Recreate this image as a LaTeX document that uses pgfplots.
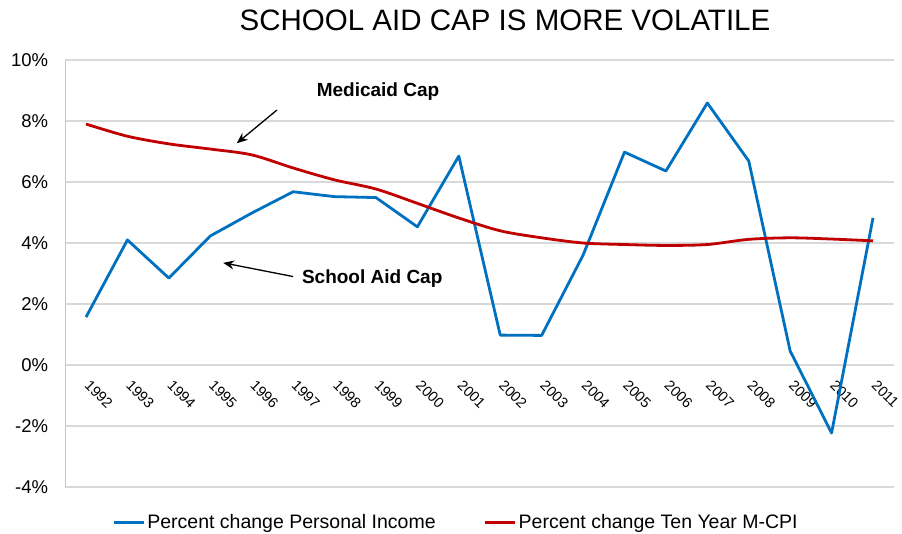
\documentclass[border=0pt]{standalone}
\usepackage{fontspec}
\setmainfont{Liberation Sans}
\usepackage{pgfplots}
\pgfplotsset{compat=1.18}
\usetikzlibrary{arrows.meta}
\definecolor{piblue}{RGB}{0,112,192}
\definecolor{cpired}{RGB}{192,0,0}
\begin{document}
\begin{tikzpicture}
\path[use as bounding box] (-65.3pt,-46pt) rectangle (836.7pt,487pt);
\begin{axis}[
  at={(0pt,0pt)}, anchor=south west,
  scale only axis, width=828.4pt, height=427pt,
  xmin=-0.5, xmax=19.5, ymin=-4, ymax=10,
  ytick={-4,-2,0,2,4,6,8,10},
  xtick={0,...,19},
  xticklabels={1992,1993,1994,1995,1996,1997,1998,1999,2000,2001,2002,2003,2004,2005,2006,2007,2008,2009,2010,2011},
  axis x line=middle, axis y line=left,
  axis line style={-},
  x axis line style={draw=none},
  y axis line style={draw=gray!45, line width=1.2pt},
  ymajorgrids, grid style={draw=gray!30, line width=1.2pt},
  major tick length=0pt,
  /pgf/number format/assume math mode=true,
  yticklabel={\pgfmathprintnumber{\tick}\%},
  yticklabel style={font=\fontsize{18.5}{20}\selectfont, inner sep=0pt, xshift=-17pt},
  xticklabel style={font=\fontsize{14.5}{17}\selectfont, inner sep=0pt, yshift=-14pt, xshift=5pt, rotate=-45, anchor=north west},
  legend columns=2,
  legend style={at={(0.4716,-0.082)}, anchor=center, draw=none, fill=none,
    font=\fontsize{19.5}{22}\selectfont,
    /tikz/every even column/.append style={column sep=46pt},
    /tikz/every odd column/.append style={column sep=0pt}},
  legend cell align=left,
  legend image code/.code={\draw[#1, line width=3pt] (0pt,0pt) -- (30pt,0pt);},
  clip=false,
]
\addplot[piblue, line width=2.8pt, line join=round] coordinates {
 (0,1.57) (1,4.10) (2,2.85) (3,4.23) (4,4.98) (5,5.68) (6,5.52) (7,5.49) (8,4.53) (9,6.85)
 (10,0.98) (11,0.97) (12,3.60) (13,6.98) (14,6.36) (15,8.59) (16,6.69) (17,0.46) (18,-2.23) (19,4.82)};
\addlegendentry{Percent change Personal Income}
\addplot[cpired, line width=2.8pt, smooth] coordinates {
 (0,7.90) (1,7.50) (2,7.25) (3,7.08) (4,6.89) (5,6.46) (6,6.07) (7,5.77) (8,5.30) (9,4.82)
 (10,4.40) (11,4.17) (12,4.00) (13,3.95) (14,3.92) (15,3.95) (16,4.12) (17,4.17) (18,4.13) (19,4.07)};
\addlegendentry{Percent change Ten Year M-CPI}
\node[font=\bfseries\fontsize{19}{22}\selectfont] at (axis cs:7.05,8.95) {Medicaid Cap};
\node[font=\bfseries\fontsize{19}{22}\selectfont] at (axis cs:6.91,2.82) {School Aid Cap};
\draw[-{Stealth[length=11pt,width=9pt]}, line width=1.3pt] (axis cs:4.61,8.36) -- (axis cs:3.64,7.27);
\draw[-{Stealth[length=11pt,width=9pt]}, line width=1.3pt] (axis cs:5.0,2.9) -- (axis cs:3.31,3.35);
\end{axis}
\node[font=\fontsize{29.5}{32}\selectfont] at (439.7pt,467pt) {SCHOOL AID CAP IS MORE VOLATILE};
\end{tikzpicture}
\end{document}
